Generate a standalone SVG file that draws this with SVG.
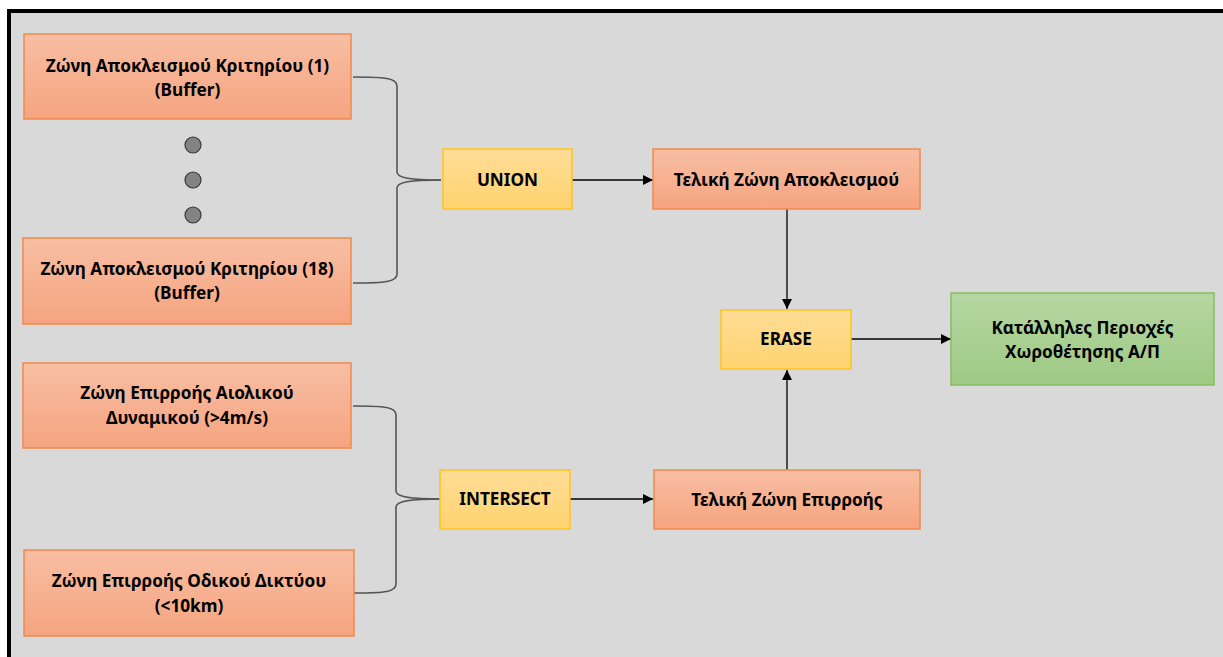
<svg xmlns="http://www.w3.org/2000/svg" width="1223" height="657" viewBox="0 0 1223 657">
<defs>
<linearGradient id="gOr" x1="0" y1="0" x2="0" y2="1"><stop offset="0" stop-color="#f8bea3"/><stop offset="1" stop-color="#f5a480"/></linearGradient>
<linearGradient id="gYe" x1="0" y1="0" x2="0" y2="1"><stop offset="0" stop-color="#ffdd97"/><stop offset="1" stop-color="#ffd36f"/></linearGradient>
<linearGradient id="gGr" x1="0" y1="0" x2="0" y2="1"><stop offset="0" stop-color="#b6d7a2"/><stop offset="1" stop-color="#9dc984"/></linearGradient>
<marker id="arr" viewBox="0 0 10 10" refX="10" refY="5" markerWidth="10" markerHeight="10" markerUnits="userSpaceOnUse" orient="auto"><path d="M0,0 L10,5 L0,10 Z" fill="#000"/></marker>
<style>
.or{fill:url(#gOr);stroke:#f08a4b;stroke-width:1.5}
.ye{fill:url(#gYe);stroke:#ffc31f;stroke-width:1.5}
.gr{fill:url(#gGr);stroke:#86bd62;stroke-width:1.5}
.t{font-family:"Noto Sans","Open Sans","DejaVu Sans",sans-serif;font-weight:bold;font-size:17.2px;fill:#000;text-anchor:middle}
.br{fill:none;stroke:#555;stroke-width:1.6}
.ar{fill:none;stroke:#000;stroke-width:1.3;marker-end:url(#arr)}
.dot{fill:#838383;stroke:#3a3a3a;stroke-width:1.2}
</style>
</defs>
<rect x="0" y="0" width="1223" height="657" fill="#fff"/>
<rect x="9" y="11" width="1240" height="670" fill="#d9d9d9" stroke="#000" stroke-width="4"/>

<g id="connectors">
<path class="br" d="M353,77 C385,77 397,78 397,86 L397,172 C397,178 410,180 441,180"/>
<path class="br" d="M353,283 C385,283 397,282 397,274 L397,188 C397,182 410,180 441,180"/>
<path class="br" d="M353,406 C385,406 396,407 396,415 L396,491 C396,497 410,499 440,499"/>
<path class="br" d="M354,593 C385,593 396,592 396,584 L396,507 C396,501 410,499 440,499"/>
<path class="ar" d="M572,180 L653,180"/>
<path class="ar" d="M570,499 L653,499"/>
<path class="ar" d="M787,209 L787,309"/>
<path class="ar" d="M787,470 L787,370"/>
<path class="ar" d="M851,339 L951,339"/>
</g>

<g id="n1"><rect class="or" x="24" y="34" width="327" height="85"/><text class="t" x="187.5" y="72">Ζώνη Αποκλεισμού Κριτηρίου (1)</text><text class="t" x="187.5" y="96">(Buffer)</text></g>
<g id="dots"><circle class="dot" cx="193" cy="145" r="8"/><circle class="dot" cx="193" cy="180" r="8"/><circle class="dot" cx="193" cy="215" r="8"/></g>
<g id="n18"><rect class="or" x="23" y="238" width="328" height="86"/><text class="t" x="187" y="275">Ζώνη Αποκλεισμού Κριτηρίου (18)</text><text class="t" x="187" y="299">(Buffer)</text></g>
<g id="nAiol"><rect class="or" x="23" y="363" width="328" height="85"/><text class="t" x="187" y="399">Ζώνη Επιρροής Αιολικού</text><text class="t" x="187" y="424">Δυναμικού (&gt;4m/s)</text></g>
<g id="nOdik"><rect class="or" x="24" y="550" width="330" height="86"/><text class="t" x="189" y="587">Ζώνη Επιρροής Οδικού Δικτύου</text><text class="t" x="189" y="612">(&lt;10km)</text></g>
<g id="union"><rect class="ye" x="443" y="149" width="129" height="60"/><text class="t" x="507.5" y="186">UNION</text></g>
<g id="intersect"><rect class="ye" x="440" y="470" width="130" height="59"/><text class="t" x="505" y="505">INTERSECT</text></g>
<g id="telA"><rect class="or" x="653" y="149" width="267" height="60"/><text class="t" x="786.5" y="186">Τελική Ζώνη Αποκλεισμού</text></g>
<g id="telE"><rect class="or" x="654" y="470" width="266" height="59"/><text class="t" x="787" y="506">Τελική Ζώνη Επιρροής</text></g>
<g id="erase"><rect class="ye" x="721" y="310" width="130" height="59"/><text class="t" x="786" y="345">ERASE</text></g>
<g id="result"><rect class="gr" x="951" y="293" width="263" height="92"/><text class="t" x="1082.5" y="334">Κατάλληλες Περιοχές</text><text class="t" x="1082.5" y="358">Χωροθέτησης Α/Π</text></g>
</svg>
